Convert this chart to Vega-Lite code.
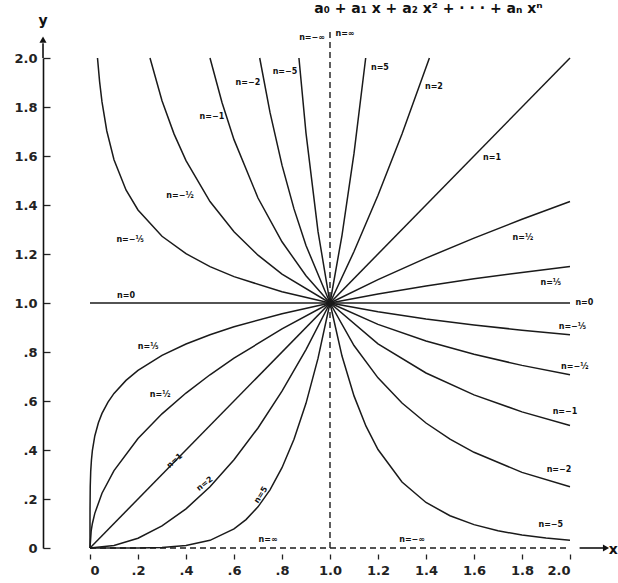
{
  "$schema": "https://vega.github.io/schema/vega-lite/v6.json",
  "width": 480,
  "height": 490,
  "autosize": {"type": "none"},
  "padding": {"left": 90, "top": 58, "right": 48, "bottom": 35},
  "background": "white",
  "config": {"view": {"stroke": null}, "font": "DejaVu Sans"},
  "datasets": {
    "curves": [
      {"n": "5", "x": 0, "y": 0}, {"n": "5", "x": 0.1, "y": 0.00001}, {"n": "5", "x": 0.2, "y": 0.00032}, {"n": "5", "x": 0.3, "y": 0.00243}, {"n": "5", "x": 0.4, "y": 0.01024}, {"n": "5", "x": 0.5, "y": 0.03125}, {"n": "5", "x": 0.6, "y": 0.07776}, {"n": "5", "x": 0.65, "y": 0.116}, {"n": "5", "x": 0.7, "y": 0.16807}, {"n": "5", "x": 0.75, "y": 0.2373}, {"n": "5", "x": 0.8, "y": 0.32768}, {"n": "5", "x": 0.85, "y": 0.4437}, {"n": "5", "x": 0.9, "y": 0.59049}, {"n": "5", "x": 0.95, "y": 0.7738}, {"n": "5", "x": 1.0, "y": 1}, {"n": "5", "x": 1.05, "y": 1.2763}, {"n": "5", "x": 1.1, "y": 1.6105}, {"n": "5", "x": 1.1487, "y": 2.0},
      {"n": "2", "x": 0, "y": 0}, {"n": "2", "x": 0.1, "y": 0.01}, {"n": "2", "x": 0.2, "y": 0.04}, {"n": "2", "x": 0.3, "y": 0.09}, {"n": "2", "x": 0.4, "y": 0.16}, {"n": "2", "x": 0.5, "y": 0.25}, {"n": "2", "x": 0.6, "y": 0.36}, {"n": "2", "x": 0.7, "y": 0.49}, {"n": "2", "x": 0.8, "y": 0.64}, {"n": "2", "x": 0.9, "y": 0.81}, {"n": "2", "x": 1.0, "y": 1}, {"n": "2", "x": 1.1, "y": 1.21}, {"n": "2", "x": 1.2, "y": 1.44}, {"n": "2", "x": 1.3, "y": 1.69}, {"n": "2", "x": 1.4142, "y": 2.0},
      {"n": "1", "x": 0, "y": 0}, {"n": "1", "x": 2, "y": 2},
      {"n": "1/2", "x": 0, "y": 0}, {"n": "1/2", "x": 0.005, "y": 0.0707}, {"n": "1/2", "x": 0.01, "y": 0.1}, {"n": "1/2", "x": 0.02, "y": 0.1414}, {"n": "1/2", "x": 0.05, "y": 0.2236}, {"n": "1/2", "x": 0.1, "y": 0.3162}, {"n": "1/2", "x": 0.2, "y": 0.4472}, {"n": "1/2", "x": 0.3, "y": 0.5477}, {"n": "1/2", "x": 0.4, "y": 0.6325}, {"n": "1/2", "x": 0.5, "y": 0.7071}, {"n": "1/2", "x": 0.6, "y": 0.7746}, {"n": "1/2", "x": 0.8, "y": 0.8944}, {"n": "1/2", "x": 1.0, "y": 1}, {"n": "1/2", "x": 1.2, "y": 1.0954}, {"n": "1/2", "x": 1.4, "y": 1.1832}, {"n": "1/2", "x": 1.6, "y": 1.2649}, {"n": "1/2", "x": 1.8, "y": 1.3416}, {"n": "1/2", "x": 2.0, "y": 1.4142},
      {"n": "1/5", "x": 0, "y": 0}, {"n": "1/5", "x": 0.00001, "y": 0.1}, {"n": "1/5", "x": 0.0001, "y": 0.1585}, {"n": "1/5", "x": 0.001, "y": 0.2512}, {"n": "1/5", "x": 0.003, "y": 0.3129}, {"n": "1/5", "x": 0.006, "y": 0.3594}, {"n": "1/5", "x": 0.01, "y": 0.3981}, {"n": "1/5", "x": 0.02, "y": 0.4573}, {"n": "1/5", "x": 0.035, "y": 0.5114}, {"n": "1/5", "x": 0.05, "y": 0.5493}, {"n": "1/5", "x": 0.075, "y": 0.5958}, {"n": "1/5", "x": 0.1, "y": 0.631}, {"n": "1/5", "x": 0.15, "y": 0.6842}, {"n": "1/5", "x": 0.2, "y": 0.7248}, {"n": "1/5", "x": 0.3, "y": 0.786}, {"n": "1/5", "x": 0.4, "y": 0.8326}, {"n": "1/5", "x": 0.5, "y": 0.8706}, {"n": "1/5", "x": 0.6, "y": 0.9029}, {"n": "1/5", "x": 0.8, "y": 0.9564}, {"n": "1/5", "x": 1.0, "y": 1}, {"n": "1/5", "x": 1.2, "y": 1.0371}, {"n": "1/5", "x": 1.4, "y": 1.0696}, {"n": "1/5", "x": 1.6, "y": 1.0986}, {"n": "1/5", "x": 1.8, "y": 1.1247}, {"n": "1/5", "x": 2.0, "y": 1.1487},
      {"n": "0", "x": 0, "y": 1}, {"n": "0", "x": 2, "y": 1},
      {"n": "-1/5", "x": 0.03125, "y": 2.0}, {"n": "-1/5", "x": 0.04, "y": 1.9037}, {"n": "-1/5", "x": 0.05, "y": 1.8206}, {"n": "-1/5", "x": 0.07, "y": 1.7021}, {"n": "-1/5", "x": 0.1, "y": 1.5849}, {"n": "-1/5", "x": 0.15, "y": 1.4615}, {"n": "-1/5", "x": 0.2, "y": 1.3797}, {"n": "-1/5", "x": 0.3, "y": 1.2723}, {"n": "-1/5", "x": 0.4, "y": 1.2011}, {"n": "-1/5", "x": 0.5, "y": 1.1487}, {"n": "-1/5", "x": 0.6, "y": 1.1076}, {"n": "-1/5", "x": 0.8, "y": 1.0456}, {"n": "-1/5", "x": 1.0, "y": 1}, {"n": "-1/5", "x": 1.2, "y": 0.9642}, {"n": "-1/5", "x": 1.4, "y": 0.9349}, {"n": "-1/5", "x": 1.6, "y": 0.9103}, {"n": "-1/5", "x": 1.8, "y": 0.8891}, {"n": "-1/5", "x": 2.0, "y": 0.8706},
      {"n": "-1/2", "x": 0.25, "y": 2.0}, {"n": "-1/2", "x": 0.3, "y": 1.8257}, {"n": "-1/2", "x": 0.35, "y": 1.6903}, {"n": "-1/2", "x": 0.4, "y": 1.5811}, {"n": "-1/2", "x": 0.5, "y": 1.4142}, {"n": "-1/2", "x": 0.6, "y": 1.291}, {"n": "-1/2", "x": 0.7, "y": 1.1952}, {"n": "-1/2", "x": 0.8, "y": 1.118}, {"n": "-1/2", "x": 1.0, "y": 1}, {"n": "-1/2", "x": 1.2, "y": 0.9129}, {"n": "-1/2", "x": 1.4, "y": 0.8452}, {"n": "-1/2", "x": 1.6, "y": 0.7906}, {"n": "-1/2", "x": 1.8, "y": 0.7454}, {"n": "-1/2", "x": 2.0, "y": 0.7071},
      {"n": "-1", "x": 0.5, "y": 2.0}, {"n": "-1", "x": 0.55, "y": 1.8182}, {"n": "-1", "x": 0.6, "y": 1.6667}, {"n": "-1", "x": 0.7, "y": 1.4286}, {"n": "-1", "x": 0.8, "y": 1.25}, {"n": "-1", "x": 0.9, "y": 1.1111}, {"n": "-1", "x": 1.0, "y": 1}, {"n": "-1", "x": 1.2, "y": 0.8333}, {"n": "-1", "x": 1.4, "y": 0.7143}, {"n": "-1", "x": 1.6, "y": 0.625}, {"n": "-1", "x": 1.8, "y": 0.5556}, {"n": "-1", "x": 2.0, "y": 0.5},
      {"n": "-2", "x": 0.7071, "y": 2.0}, {"n": "-2", "x": 0.75, "y": 1.7778}, {"n": "-2", "x": 0.8, "y": 1.5625}, {"n": "-2", "x": 0.85, "y": 1.3841}, {"n": "-2", "x": 0.9, "y": 1.2346}, {"n": "-2", "x": 1.0, "y": 1}, {"n": "-2", "x": 1.1, "y": 0.8264}, {"n": "-2", "x": 1.2, "y": 0.6944}, {"n": "-2", "x": 1.3, "y": 0.5917}, {"n": "-2", "x": 1.4, "y": 0.5102}, {"n": "-2", "x": 1.5, "y": 0.4444}, {"n": "-2", "x": 1.6, "y": 0.3906}, {"n": "-2", "x": 1.8, "y": 0.3086}, {"n": "-2", "x": 2.0, "y": 0.25},
      {"n": "-5", "x": 0.8706, "y": 2.0}, {"n": "-5", "x": 0.9, "y": 1.6935}, {"n": "-5", "x": 0.95, "y": 1.2923}, {"n": "-5", "x": 1.0, "y": 1}, {"n": "-5", "x": 1.05, "y": 0.7835}, {"n": "-5", "x": 1.1, "y": 0.6209}, {"n": "-5", "x": 1.15, "y": 0.4972}, {"n": "-5", "x": 1.2, "y": 0.4019}, {"n": "-5", "x": 1.3, "y": 0.2693}, {"n": "-5", "x": 1.4, "y": 0.1859}, {"n": "-5", "x": 1.5, "y": 0.1317}, {"n": "-5", "x": 1.6, "y": 0.0954}, {"n": "-5", "x": 1.7, "y": 0.0704}, {"n": "-5", "x": 1.8, "y": 0.0529}, {"n": "-5", "x": 1.9, "y": 0.0404}, {"n": "-5", "x": 2.0, "y": 0.03125}
    ],
    "dashed": [
      {"seg": "v", "x": 1, "y": 0}, {"seg": "v", "x": 1, "y": 2.11},
      {"seg": "h", "x": 0, "y": 0}, {"seg": "h", "x": 2, "y": 0}
    ],
    "labels": [
      {"t": "n=−∞", "x": 0.925, "y": 2.08},
      {"t": "n=∞", "x": 1.0625, "y": 2.1},
      {"t": "n=5", "x": 1.208, "y": 1.959},
      {"t": "n=2", "x": 1.433, "y": 1.88},
      {"t": "n=−5", "x": 0.8125, "y": 1.943},
      {"t": "n=−2", "x": 0.658, "y": 1.898},
      {"t": "n=−1", "x": 0.508, "y": 1.759},
      {"t": "n=−½", "x": 0.375, "y": 1.437},
      {"t": "n=−⅕", "x": 0.167, "y": 1.257},
      {"t": "n=0", "x": 0.15, "y": 1.03},
      {"t": "n=0", "x": 2.06, "y": 1.0},
      {"t": "n=1", "x": 1.675, "y": 1.59},
      {"t": "n=½", "x": 1.804, "y": 1.265},
      {"t": "n=⅕", "x": 1.92, "y": 1.08},
      {"t": "n=−⅕", "x": 2.01, "y": 0.902},
      {"t": "n=−½", "x": 2.02, "y": 0.739},
      {"t": "n=−1", "x": 1.979, "y": 0.555},
      {"t": "n=−2", "x": 1.954, "y": 0.318},
      {"t": "n=−5", "x": 1.92, "y": 0.094},
      {"t": "n=−∞", "x": 1.342, "y": 0.033},
      {"t": "n=∞", "x": 0.742, "y": 0.033},
      {"t": "n=⅕", "x": 0.242, "y": 0.82},
      {"t": "n=½", "x": 0.292, "y": 0.624}
    ]
  },
  "layer": [
    {
      "data": {"name": "curves"},
      "mark": {"type": "line", "color": "#1a1a1a", "strokeWidth": 1.5, "clip": false},
      "encoding": {
        "x": {"field": "x", "type": "quantitative", "scale": {"domain": [0, 2]},
          "axis": {"values": [0, 0.2, 0.4, 0.6, 0.8, 1.0, 1.2, 1.4, 1.6, 1.8, 2.0], "title": null, "grid": false, "domain": false, "offset": 6, "tickSize": 5, "tickColor": "#222", "tickWidth": 1.3, "labelPadding": 5, "labelFontSize": 13, "labelFontWeight": "bold", "labelColor": "#222", "labelFont": "DejaVu Sans",
            "labelExpr": "datum.value == 0 ? '0' : datum.value < 1 ? replace(format(datum.value, '.1f'), '0.', '.') : format(datum.value, '.1f')"}},
        "y": {"field": "y", "type": "quantitative", "scale": {"domain": [0, 2]},
          "axis": {"values": [0, 0.2, 0.4, 0.6, 0.8, 1.0, 1.2, 1.4, 1.6, 1.8, 2.0], "title": null, "grid": false, "domain": true, "domainColor": "#111", "domainWidth": 1.6, "offset": 47, "tickSize": -7, "tickColor": "#222", "tickWidth": 1.3, "labelPadding": 13, "labelFontSize": 13, "labelFontWeight": "bold", "labelColor": "#222", "labelFont": "DejaVu Sans",
            "labelExpr": "datum.value == 0 ? '0' : datum.value < 1 ? replace(format(datum.value, '.1f'), '0.', '.') : format(datum.value, '.1f')"}},
        "detail": {"field": "n"}
      }
    },
    {
      "data": {"name": "dashed"},
      "mark": {"type": "line", "color": "#1a1a1a", "strokeWidth": 1.4, "strokeDash": [6, 4], "clip": false},
      "encoding": {
        "x": {"field": "x", "type": "quantitative"},
        "y": {"field": "y", "type": "quantitative"},
        "detail": {"field": "seg"}
      }
    },
    {
      "data": {"values": [{"x": 2.04, "x2": 2.14, "y": 0}]},
      "mark": {"type": "rule", "color": "#111", "strokeWidth": 1.6, "clip": false},
      "encoding": {
        "x": {"field": "x", "type": "quantitative"},
        "x2": {"field": "x2"},
        "y": {"field": "y", "type": "quantitative"}
      }
    },
    {
      "data": {"values": [{"x": 2.15, "y": 0}]},
      "mark": {"type": "point", "shape": "triangle-right", "filled": true, "color": "#111", "size": 50, "opacity": 1, "clip": false},
      "encoding": {
        "x": {"field": "x", "type": "quantitative"},
        "y": {"field": "y", "type": "quantitative"}
      }
    },
    {
      "data": {"values": [{"x": -0.1958, "y": 2.0, "y2": 2.06}]},
      "mark": {"type": "rule", "color": "#111", "strokeWidth": 1.6, "clip": false},
      "encoding": {
        "x": {"field": "x", "type": "quantitative"},
        "y": {"field": "y", "type": "quantitative"},
        "y2": {"field": "y2"}
      }
    },
    {
      "data": {"values": [{"x": -0.1958, "y": 2.075}]},
      "mark": {"type": "point", "shape": "triangle-up", "filled": true, "color": "#111", "size": 50, "opacity": 1, "clip": false},
      "encoding": {
        "x": {"field": "x", "type": "quantitative"},
        "y": {"field": "y", "type": "quantitative"}
      }
    },
    {
      "data": {"values": [{"t": "y", "x": -0.1958, "y": 2.15}, {"t": "x", "x": 2.18, "y": -0.01}]},
      "mark": {"type": "text", "fontSize": 14, "fontWeight": "bold", "color": "#111", "font": "DejaVu Sans", "clip": false},
      "encoding": {
        "x": {"field": "x", "type": "quantitative"},
        "y": {"field": "y", "type": "quantitative"},
        "text": {"field": "t"}
      }
    },
    {
      "data": {"name": "labels"},
      "mark": {"type": "text", "fontSize": 8, "fontWeight": "bold", "color": "#111", "font": "DejaVu Sans", "clip": false},
      "encoding": {
        "x": {"field": "x", "type": "quantitative"},
        "y": {"field": "y", "type": "quantitative"},
        "text": {"field": "t"}
      }
    },
    {
      "data": {"values": [{"t": "n=1", "x": 0.354, "y": 0.355}]},
      "mark": {"type": "text", "fontSize": 8, "fontWeight": "bold", "color": "#111", "font": "DejaVu Sans", "angle": 318},
      "encoding": {
        "x": {"field": "x", "type": "quantitative"},
        "y": {"field": "y", "type": "quantitative"},
        "text": {"field": "t"}
      }
    },
    {
      "data": {"values": [{"t": "n=2", "x": 0.479, "y": 0.261}]},
      "mark": {"type": "text", "fontSize": 8, "fontWeight": "bold", "color": "#111", "font": "DejaVu Sans", "angle": 322},
      "encoding": {
        "x": {"field": "x", "type": "quantitative"},
        "y": {"field": "y", "type": "quantitative"},
        "text": {"field": "t"}
      }
    },
    {
      "data": {"values": [{"t": "n=5", "x": 0.713, "y": 0.216}]},
      "mark": {"type": "text", "fontSize": 8, "fontWeight": "bold", "color": "#111", "font": "DejaVu Sans", "angle": 302},
      "encoding": {
        "x": {"field": "x", "type": "quantitative"},
        "y": {"field": "y", "type": "quantitative"},
        "text": {"field": "t"}
      }
    },
    {
      "data": {"values": [{"t": "a₀ + a₁ x + a₂ x² + · · · + aₙ xⁿ", "x": 1.41, "y": 2.2}]},
      "mark": {"type": "text", "fontSize": 14, "fontWeight": "bold", "color": "#111", "font": "DejaVu Sans", "clip": false},
      "encoding": {
        "x": {"field": "x", "type": "quantitative"},
        "y": {"field": "y", "type": "quantitative"},
        "text": {"field": "t"}
      }
    }
  ]
}
